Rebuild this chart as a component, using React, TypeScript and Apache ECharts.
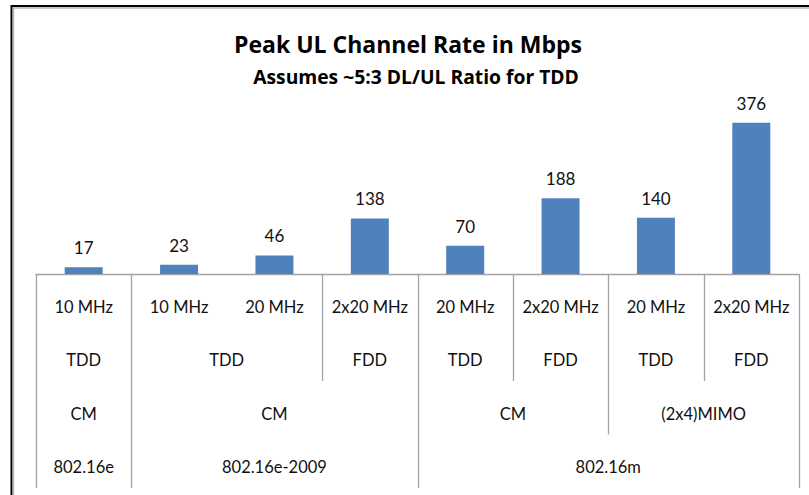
import React, { useEffect, useRef } from "react";
import * as echarts from "echarts";

const titleText = "Peak UL Channel Rate in Mbps";
const subtitleText = "Assumes ~5:3 DL/UL Ratio for TDD";
const categories = ["10 MHz", "10 MHz", "20 MHz", "2x20 MHz", "20 MHz", "2x20 MHz", "20 MHz", "2x20 MHz"];
const values = [17, 23, 46, 138, 70, 188, 140, 376];
// grouped category levels: [label, span]
const duplexGroups: [string, number][] = [["TDD", 1], ["TDD", 2], ["FDD", 1], ["TDD", 1], ["FDD", 1], ["TDD", 1], ["FDD", 1]];
const modeGroups: [string, number][] = [["CM", 1], ["CM", 3], ["CM", 2], ["(2x4)MIMO", 2]];
const standardGroups: [string, number][] = [["802.16e", 1], ["802.16e-2009", 3], ["802.16m", 4]];
const groupLevels = [duplexGroups, modeGroups, standardGroups];

const FONT = "Lato, 'Liberation Sans', sans-serif";
const TITLE_FONT = "'Open Sans', Lato, sans-serif";
const LINE = "#a3a3a3";
const ROW_H = 53.5;
const LABEL_OFF = 33;

export default function App() {
  const ref = useRef<HTMLDivElement>(null);
  useEffect(() => {
    if (!ref.current) return;
    const chart = echarts.init(ref.current, null, { renderer: "svg" });
    chart.setOption({
      animation: false,
      backgroundColor: "#ffffff",
      grid: { left: 36, right: 10, top: 113, bottom: 221 },
      xAxis: {
        type: "category",
        data: categories,
        axisLine: { lineStyle: { color: LINE, width: 1.3 } },
        axisTick: { show: false },
        axisLabel: {
          interval: 0,
          margin: 23,
          lineHeight: 20,
          fontSize: 16.5,
          fontFamily: FONT,
          color: "#111",
        },
      },
      yAxis: { type: "value", min: 0, max: 400, show: false },
      series: [
        {
          type: "bar",
          data: values,
          barWidth: 38,
          itemStyle: { color: "#4f81bd" },
          label: {
            show: true,
            position: "top",
            distance: 11,
            fontSize: 17,
            fontFamily: FONT,
            color: "#111",
          },
        },
      ],
    });

    const px = (i: number) => chart.convertToPixel({ gridIndex: 0 }, [i, 0]) as number[];
    const p0 = px(0);
    const p1 = px(1);
    const bw = p1[0] - p0[0];
    const base = p0[1];
    const bx = (k: number) => p0[0] + (k - 0.5) * bw;
    const n = categories.length;

    const graphics: any[] = [];
    // frame
    graphics.push({ type: "line", shape: { x1: 11.5, y1: 5, x2: 11.5, y2: 495 }, style: { stroke: "#000", lineWidth: 2 } });
    graphics.push({ type: "line", shape: { x1: 11, y1: 6, x2: 809, y2: 6 }, style: { stroke: "#000", lineWidth: 2 } });
    graphics.push({ type: "line", shape: { x1: 13.5, y1: 8, x2: 13.5, y2: 495 }, style: { stroke: "#b8b8b8", lineWidth: 1.5 } });
    graphics.push({ type: "line", shape: { x1: 13, y1: 8, x2: 809, y2: 8 }, style: { stroke: "#b8b8b8", lineWidth: 1.5 } });
    // titles
    graphics.push({
      type: "text",
      x: 408,
      y: 44,
      style: { text: titleText, align: "center", verticalAlign: "middle", fontSize: 23, fontWeight: "bold", fontFamily: TITLE_FONT, fill: "#000" },
    });
    graphics.push({
      type: "text",
      x: 416,
      y: 76,
      style: { text: subtitleText, align: "center", verticalAlign: "middle", fontSize: 19.3, fontWeight: "bold", fontFamily: TITLE_FONT, fill: "#000" },
    });

    // separators
    const depth: number[] = new Array(n + 1).fill(0);
    depth[0] = groupLevels.length;
    depth[n] = groupLevels.length;
    groupLevels.forEach((groups, li) => {
      let k = 0;
      groups.forEach(([, span]) => {
        k += span;
        depth[k] = Math.max(depth[k], li + 1);
      });
    });
    for (let k = 0; k <= n; k++) {
      if (depth[k] === 0) continue;
      const x = Math.round(bx(k)) + 0.5;
      graphics.push({
        type: "line",
        shape: { x1: x, y1: base, x2: x, y2: base + ROW_H * (depth[k] + 1) },
        style: { stroke: LINE, lineWidth: 1.3 },
      });
    }
    // group labels
    groupLevels.forEach((groups, li) => {
      let k = 0;
      const rowTop = base + ROW_H * (li + 1);
      groups.forEach(([label, span]) => {
        const cx = (bx(k) + bx(k + span)) / 2;
        k += span;
        graphics.push({
          type: "text",
          x: cx,
          y: rowTop + LABEL_OFF - 0.5,
          style: { text: label, align: "center", verticalAlign: "middle", fontSize: 16.5, fontFamily: FONT, fill: "#111" },
        });
      });
    });

    chart.setOption({ graphic: graphics });
    return () => chart.dispose();
  }, []);
  return (
    <div
      ref={ref}
      style={{ position: "fixed", left: 0, top: 0, width: 809, height: 495, background: "#fff" }}
    />
  );
}
